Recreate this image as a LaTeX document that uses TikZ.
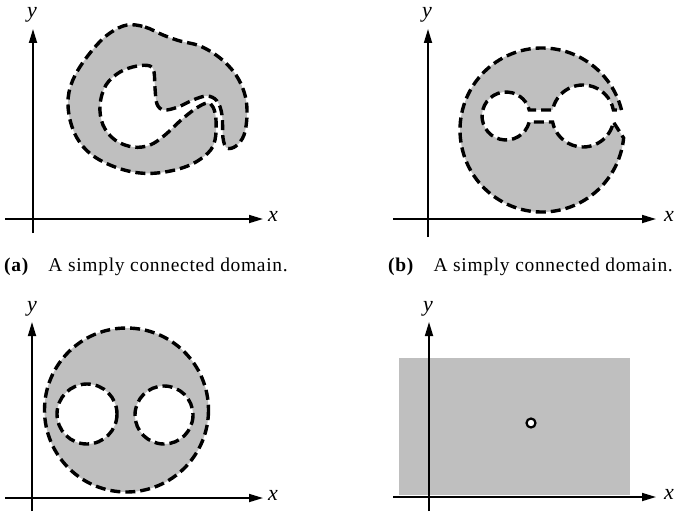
\documentclass[tikz,border=0pt]{standalone}
\usepackage{fontspec}
\setmainfont{Liberation Serif}
\usetikzlibrary{arrows.meta,calc}
\tikzset{
  axis/.style={line width=1.7pt,-{Triangle[length=14pt,width=8pt]}},
  dom/.style={line width=3.4pt,dash pattern=on 10pt off 5pt,fill=black!25},
  lbl/.style={font=\fontsize{22}{22}\selectfont\itshape,inner sep=0pt},
  captext/.style={font=\fontsize{19.5}{20}\selectfont\addfontfeatures{LetterSpace=3.5},inner sep=0pt,anchor=base west}
}
\begin{document}
\begin{tikzpicture}[x=1pt,y=-1pt]
\useasboundingbox (0,0) rectangle (700,511);
% ---------- panel (a)
\fill[dom,draw=black] plot[smooth cycle,tension=0.6] coordinates {
(127,25) (145,27) (163,35) (180,41) (200,46) (220,58) (236,75) (245,95)
(247,115) (244,135) (236,146) (227,148) (223,138) (222,115) (217,101)
(207,96) (193,100) (178,107) (164,110) (157,104) (155,88) (154,72)
(150,66) (137,66) (120,72) (106,85) (100,105) (103,125) (115,140)
(133,147) (150,145) (165,135) (180,121) (195,109) (207,103) (213,107)
(216,120) (215,140) (208,153) (190,165) (165,172) (140,173) (115,167)
(92,155) (77,138) (69,115) (69,92) (78,70) (95,47) (110,33)};
\coordinate (ay0) at (33,233); \coordinate (ay1) at (33,29);
\coordinate (ax0) at (5,219);  \coordinate (ax1) at (263,219);
\draw[axis] (ay0) -- (ay1);
\draw[axis] (ax0) -- (ax1);
\node[lbl] (ya) at (32,15) {y};
\node[lbl] (xa) at (273,216) {x};
\node[captext] (capa) at (4,271) {\textbf{(a)}\quad A simply connected domain.};
% ---------- panel (b)
\coordinate (C0) at (542,130);
\coordinate (C1) at (506,116);
\coordinate (C2) at (583,116);
\draw[dom] ($(C0)+(-14.1:82)$) arc[start angle=-14.1,end angle=-354.4,radius=82]
  -- ($(C2)+(11.2:31)$) arc[start angle=11.2,end angle=168.8,radius=31]
  -- ($(C1)+(14.5:24)$) arc[start angle=14.5,end angle=345.5,radius=24]
  -- ($(C2)+(191.2:31)$) arc[start angle=191.2,end angle=348.8,radius=31]
  -- cycle;
\coordinate (by0) at (428,237); \coordinate (by1) at (428,29);
\coordinate (bx0) at (393,219); \coordinate (bx1) at (656,219);
\draw[axis] (by0) -- (by1);
\draw[axis] (bx0) -- (bx1);
\node[lbl] (yb) at (427,15) {y};
\node[lbl] (xb) at (669,216) {x};
\node[captext] (capb) at (388,271) {\textbf{(b)}\quad A simply connected domain.};
% ---------- panel (c)
\coordinate (D0) at (126.5,410);
\coordinate (D1) at (87,414);
\coordinate (D2) at (164,415);
\draw[dom,even odd rule] (D0) circle[radius=82] (D1) circle[radius=30] (D2) circle[radius=29];
\coordinate (cy0) at (32,511); \coordinate (cy1) at (32,322);
\coordinate (cx0) at (5,498);  \coordinate (cx1) at (263,498);
\draw[axis] (cy0) -- (cy1);
\draw[axis] (cx0) -- (cx1);
\node[lbl] (yc) at (32,309) {y};
\node[lbl] (xc) at (273,495) {x};
% ---------- panel (d)
\fill[black!25] (399,358) rectangle (630,495);
\coordinate (dy0) at (429,511); \coordinate (dy1) at (429,322);
\coordinate (dx0) at (393,497); \coordinate (dx1) at (656,497);
\draw[axis] (dy0) -- (dy1);
\draw[axis] (dx0) -- (dx1);
\node[lbl] (yd) at (428,309) {y};
\node[lbl] (xd) at (669,494) {x};
\node[circle,draw,line width=2.2pt,fill=white,minimum size=9pt,inner sep=0pt] (pt) at (531,423) {};
\end{tikzpicture}
\end{document}
